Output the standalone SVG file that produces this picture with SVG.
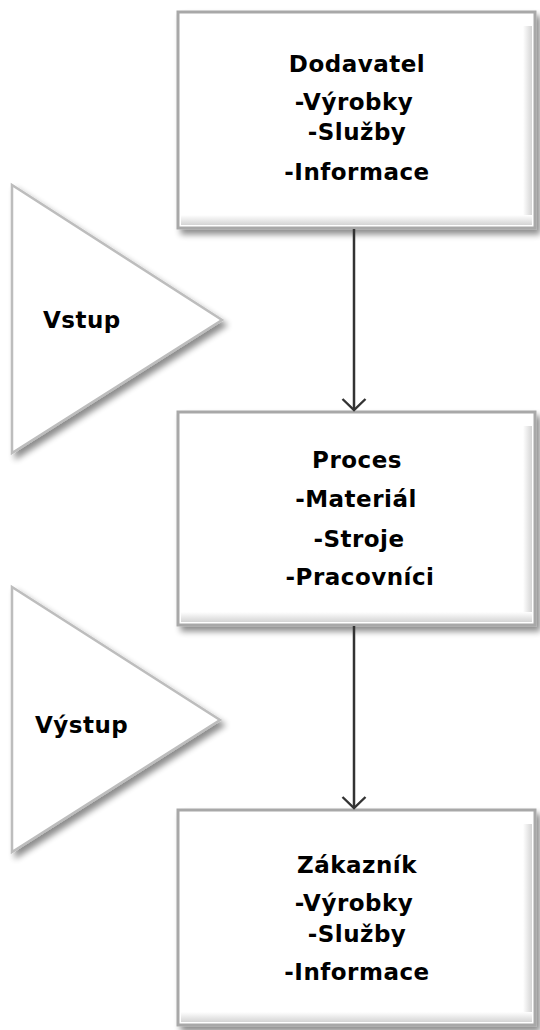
<svg xmlns="http://www.w3.org/2000/svg" width="540" height="1030" viewBox="0 0 540 1030">
<defs>
<filter id="sh" x="-10%" y="-10%" width="125%" height="125%">
<feGaussianBlur in="SourceAlpha" stdDeviation="3"/>
<feOffset dx="4" dy="5" result="b"/>
<feComponentTransfer><feFuncA type="linear" slope="0.45"/></feComponentTransfer>
<feMerge><feMergeNode/><feMergeNode in="SourceGraphic"/></feMerge>
</filter>
<linearGradient id="gr" x1="0" y1="0" x2="1" y2="0"><stop offset="0" stop-color="#ffffff"/><stop offset="1" stop-color="#d4d4d4"/></linearGradient>
<linearGradient id="gb" x1="0" y1="0" x2="0" y2="1"><stop offset="0" stop-color="#ffffff"/><stop offset="1" stop-color="#d4d4d4"/></linearGradient>
<marker id="ah" markerWidth="14" markerHeight="26" refX="12" refY="13" orient="auto" markerUnits="userSpaceOnUse" viewBox="0 0 14 26">
<path d="M1,1.5 L12,13 L1,24.5" fill="none" stroke="#333" stroke-width="2.4"/>
</marker>
</defs>
<style>
.box{fill:#fff;stroke:#a8a8a8;stroke-width:3}
.tri{fill:#fff;stroke:#bdbdbd;stroke-width:2.5}
.t{font-family:"DejaVu Sans","Liberation Sans",sans-serif;font-weight:bold;font-size:23px;fill:#000;letter-spacing:0.5px}
.c{text-anchor:middle}
.conn{stroke:#333;stroke-width:2.5;fill:none}
</style>

<g id="vstup">
<polygon class="tri" points="12,185 12,453 222,320" filter="url(#sh)"/>
<text class="t" x="43" y="328">Vstup</text>
</g>

<g id="vystup">
<polygon class="tri" points="12,587 12,852 220,720" filter="url(#sh)"/>
<text class="t" x="35" y="733">Výstup</text>
</g>

<g id="dodavatel">
<rect class="box" x="178" y="12" width="357" height="216" filter="url(#sh)"/>
<rect x="523" y="26" width="9" height="199" fill="url(#gr)"/>
<rect x="181" y="215" width="351" height="10" fill="url(#gb)"/>
<text class="t c" x="357" y="72">Dodavatel</text>
<text class="t c" x="354" y="110">-Výrobky</text>
<text class="t c" x="357" y="140">-Služby</text>
<text class="t c" x="357" y="180">-Informace</text>
</g>

<g id="proces">
<rect class="box" x="178" y="412" width="357" height="213" filter="url(#sh)"/>
<rect x="523" y="426" width="9" height="196" fill="url(#gr)"/>
<rect x="181" y="612" width="351" height="10" fill="url(#gb)"/>
<text class="t c" x="357" y="468">Proces</text>
<text class="t c" x="356" y="507">-Materiál</text>
<text class="t c" x="359" y="547">-Stroje</text>
<text class="t c" x="360" y="585">-Pracovníci</text>
</g>

<g id="zakaznik">
<rect class="box" x="178" y="810" width="357" height="215" filter="url(#sh)"/>
<rect x="523" y="824" width="9" height="198" fill="url(#gr)"/>
<rect x="181" y="1012" width="351" height="10" fill="url(#gb)"/>
<text class="t c" x="357" y="873">Zákazník</text>
<text class="t c" x="354" y="911">-Výrobky</text>
<text class="t c" x="357" y="942">-Služby</text>
<text class="t c" x="357" y="980">-Informace</text>
</g>

<g id="connectors">
<line class="conn" x1="354" y1="229" x2="354" y2="410" marker-end="url(#ah)"/>
<line class="conn" x1="354" y1="626" x2="354" y2="808" marker-end="url(#ah)"/>
</g>
</svg>
